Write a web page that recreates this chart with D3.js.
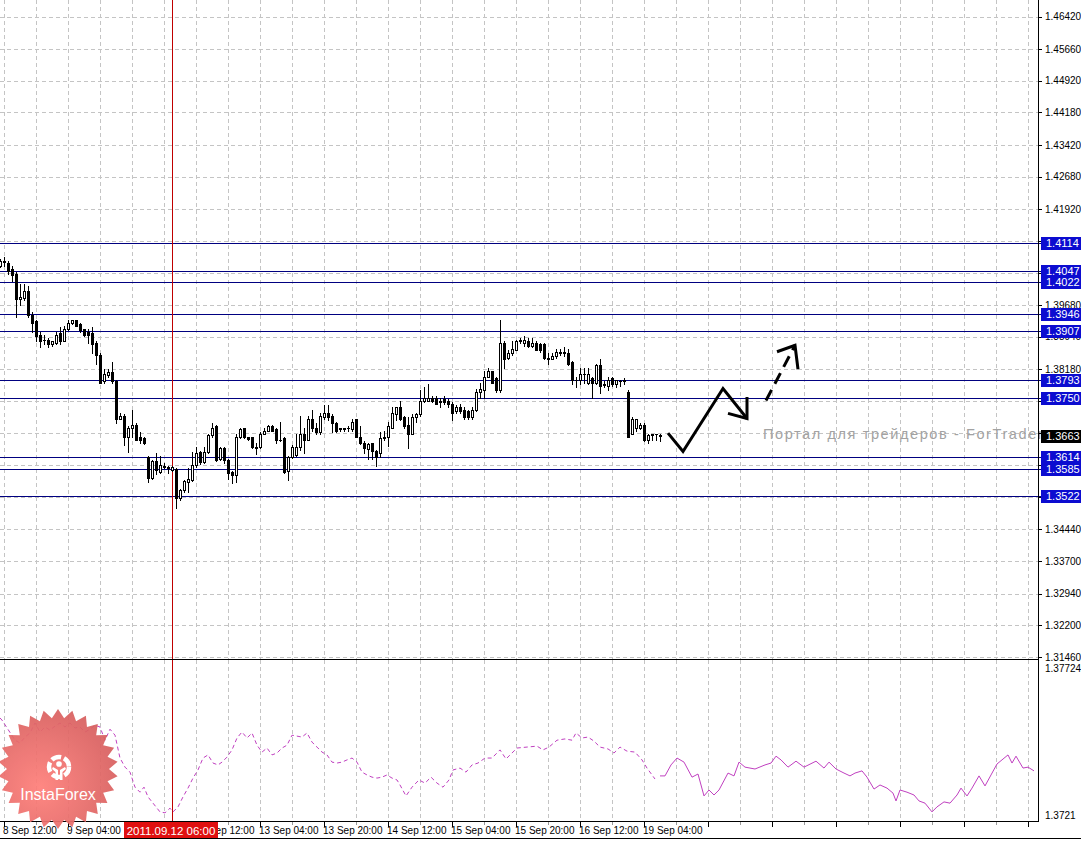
<!DOCTYPE html>
<html><head><meta charset="utf-8">
<script src="https://cdn.jsdelivr.net/npm/d3@7/dist/d3.min.js"></script>
<style>body{margin:0;background:#fff;}svg{display:block;}</style>
</head><body>
<script>
// ---------- DATA ----------
const timeLabels = ["8 Sep 12:00","9 Sep 04:00","9 Sep 20:00","12 Sep 12:00","13 Sep 04:00","13 Sep 20:00","14 Sep 12:00","15 Sep 04:00","15 Sep 20:00","16 Sep 12:00","19 Sep 04:00"];
const timeLabelBars = [1,17,33,49,65,81,97,113,129,145,161];
const priceTicks = [1.46420,1.45660,1.44920,1.44180,1.43420,1.42680,1.41920,1.41180,1.40440,1.39680,1.38940,1.38180,1.37440,1.36690,1.35950,1.35200,1.34440,1.33700,1.32940,1.32200,1.31460];
const levels = [1.4114,1.4047,1.4022,1.3946,1.3907,1.3793,1.3750,1.3614,1.3585,1.3522];
const bidPrice = 1.3663;
const cursorBar = 43;
const cursorLabel = "2011.09.12 06:00";
const opens = [1.4060,1.4070,1.4067,1.4053,1.4041,1.3983,1.3985,1.4002,1.3944,1.3930,
1.3897,1.3887,1.3887,1.3876,1.3880,1.3902,1.3885,1.3913,1.3925,1.3932,
1.3923,1.3911,1.3904,1.3902,1.3880,1.3852,1.3790,1.3804,1.3811,1.3790,
1.3703,1.3710,1.3661,1.3682,1.3689,1.3659,1.3657,1.3612,1.3563,1.3603,
1.3577,1.3591,1.3589,1.3582,1.3584,1.3517,1.3535,1.3554,1.3559,1.3594,
1.3624,1.3601,1.3624,1.3664,1.3685,1.3608,1.3633,1.3605,1.3577,1.3570,
1.3659,1.3680,1.3659,1.3659,1.3636,1.3636,1.3668,1.3675,1.3685,1.3678,
1.3654,1.3657,1.3580,1.3612,1.3617,1.3636,1.3666,1.3654,1.3703,1.3680,
1.3671,1.3706,1.3717,1.3708,1.3692,1.3679,1.3680,1.3680,1.3678,1.3701,
1.3661,1.3647,1.3631,1.3645,1.3626,1.3622,1.3657,1.3659,1.3682,1.3713,
1.3729,1.3706,1.3687,1.3668,1.3706,1.3713,1.3743,1.3745,1.3752,1.3752,
1.3743,1.3748,1.3745,1.3738,1.3720,1.3731,1.3722,1.3720,1.3706,1.3722,
1.3764,1.3769,1.3801,1.3813,1.3797,1.3769,1.3880,1.3845,1.3855,1.3864,
1.3883,1.3880,1.3883,1.3873,1.3880,1.3878,1.3876,1.3841,1.3843,1.3848,
1.3857,1.3859,1.3857,1.3836,1.3794,1.3792,1.3808,1.3785,1.3797,1.3787,
1.3829,1.3783,1.3778,1.3797,1.3783,1.3790,1.3792,1.3766,1.3668,1.3680,
1.3680,1.3689,1.3652,1.3666,1.3666,1.3664];
const highs = [1.4076,1.4081,1.4070,1.4060,1.4046,1.4018,1.4018,1.4013,1.3951,1.3932,
1.3904,1.3897,1.3890,1.3885,1.3904,1.3916,1.3920,1.3932,1.3934,1.3934,
1.3925,1.3913,1.3913,1.3916,1.3883,1.3855,1.3818,1.3818,1.3836,1.3792,
1.3717,1.3713,1.3685,1.3722,1.3692,1.3671,1.3659,1.3615,1.3605,1.3622,
1.3615,1.3598,1.3591,1.3591,1.3587,1.3538,1.3559,1.3587,1.3624,1.3636,
1.3626,1.3636,1.3666,1.3692,1.3687,1.3636,1.3636,1.3608,1.3580,1.3668,
1.3682,1.3682,1.3661,1.3661,1.3647,1.3671,1.3680,1.3689,1.3687,1.3680,
1.3694,1.3659,1.3615,1.3640,1.3668,1.3710,1.3682,1.3710,1.3724,1.3692,
1.3715,1.3734,1.3734,1.3713,1.3694,1.3682,1.3682,1.3685,1.3703,1.3703,
1.3685,1.3650,1.3647,1.3647,1.3629,1.3671,1.3673,1.3694,1.3729,1.3731,
1.3745,1.3708,1.3706,1.3713,1.3717,1.3769,1.3776,1.3783,1.3755,1.3755,
1.3752,1.3755,1.3748,1.3741,1.3734,1.3736,1.3729,1.3722,1.3729,1.3773,
1.3785,1.3815,1.3822,1.3815,1.3799,1.3934,1.3883,1.3864,1.3883,1.3887,
1.3892,1.3895,1.3892,1.3892,1.3883,1.3880,1.3880,1.3855,1.3857,1.3866,
1.3866,1.3871,1.3866,1.3838,1.3801,1.3820,1.3822,1.3822,1.3799,1.3831,
1.3843,1.3790,1.3799,1.3799,1.3794,1.3794,1.3797,1.3769,1.3706,1.3703,
1.3692,1.3692,1.3666,1.3668,1.3668,1.3668];
const lows = [1.4058,1.4060,1.4041,1.4025,1.3939,1.3967,1.3981,1.3939,1.3904,1.3885,
1.3871,1.3876,1.3869,1.3873,1.3878,1.3878,1.3883,1.3909,1.3923,1.3918,
1.3904,1.3895,1.3880,1.3857,1.3831,1.3785,1.3787,1.3799,1.3787,1.3692,
1.3701,1.3640,1.3624,1.3659,1.3652,1.3645,1.3643,1.3554,1.3561,1.3573,
1.3575,1.3587,1.3575,1.3580,1.3493,1.3512,1.3531,1.3531,1.3556,1.3589,
1.3596,1.3598,1.3622,1.3659,1.3603,1.3605,1.3598,1.3561,1.3552,1.3554,
1.3657,1.3657,1.3652,1.3633,1.3619,1.3633,1.3666,1.3673,1.3673,1.3645,
1.3650,1.3575,1.3559,1.3610,1.3615,1.3629,1.3622,1.3652,1.3675,1.3668,
1.3668,1.3703,1.3699,1.3671,1.3671,1.3673,1.3675,1.3675,1.3675,1.3659,
1.3643,1.3622,1.3608,1.3608,1.3591,1.3612,1.3652,1.3638,1.3680,1.3699,
1.3699,1.3682,1.3633,1.3666,1.3696,1.3708,1.3742,1.3744,1.3741,1.3736,
1.3731,1.3738,1.3729,1.3699,1.3717,1.3717,1.3703,1.3701,1.3703,1.3720,
1.3752,1.3752,1.3799,1.3785,1.3766,1.3766,1.3822,1.3841,1.3852,1.3862,
1.3880,1.3873,1.3871,1.3869,1.3862,1.3859,1.3841,1.3831,1.3841,1.3845,
1.3852,1.3850,1.3829,1.3783,1.3776,1.3783,1.3785,1.3783,1.3750,1.3783,
1.3762,1.3776,1.3769,1.3778,1.3776,1.3780,1.3783,1.3659,1.3666,1.3675,
1.3678,1.3650,1.3645,1.3652,1.3654,1.3650];
const closes = [1.4070,1.4069,1.4048,1.4039,1.3983,1.3988,1.4002,1.3944,1.3927,1.3895,
1.3885,1.3886,1.3878,1.3883,1.3899,1.3883,1.3913,1.3927,1.3932,1.3920,
1.3909,1.3899,1.3899,1.3878,1.3852,1.3787,1.3806,1.3811,1.3790,1.3703,
1.3710,1.3661,1.3682,1.3687,1.3654,1.3652,1.3647,1.3563,1.3603,1.3582,
1.3594,1.3590,1.3588,1.3589,1.3517,1.3535,1.3556,1.3561,1.3594,1.3622,
1.3601,1.3624,1.3664,1.3682,1.3605,1.3633,1.3605,1.3575,1.3570,1.3659,
1.3678,1.3659,1.3655,1.3636,1.3635,1.3668,1.3675,1.3685,1.3675,1.3654,
1.3653,1.3577,1.3612,1.3636,1.3636,1.3666,1.3654,1.3703,1.3680,1.3671,
1.3708,1.3717,1.3706,1.3692,1.3675,1.3680,1.3679,1.3681,1.3694,1.3661,
1.3645,1.3633,1.3643,1.3626,1.3612,1.3657,1.3659,1.3685,1.3715,1.3729,
1.3703,1.3685,1.3668,1.3706,1.3713,1.3745,1.3750,1.3752,1.3743,1.3738,
1.3742,1.3741,1.3736,1.3717,1.3729,1.3720,1.3706,1.3706,1.3722,1.3766,
1.3771,1.3801,1.3813,1.3787,1.3769,1.3880,1.3843,1.3855,1.3866,1.3883,
1.3887,1.3887,1.3873,1.3880,1.3864,1.3862,1.3845,1.3845,1.3850,1.3859,
1.3858,1.3855,1.3831,1.3792,1.3793,1.3808,1.3807,1.3808,1.3787,1.3829,
1.3780,1.3782,1.3794,1.3783,1.3792,1.3791,1.3791,1.3661,1.3703,1.3701,
1.3689,1.3652,1.3664,1.3665,1.3667,1.3663];
const indicatorMin = 1.3721, indicatorMax = 1.37724;
const indicatorDashed = [[0,1.37539],[0.5,1.37532],[3.75,1.37468],[5,1.37459],[6.25,1.37478],[7.5,1.37491],[8.75,1.37523],[10,1.37494],[11.25,1.37510],[12.5,1.37500],[13.75,1.37513],[15,1.37523],[16.25,1.37510],[17.5,1.37523],[18.75,1.37507],[20,1.37510],[21.25,1.37494],[22.5,1.37503],[23.75,1.37516],[25,1.37510],[26.25,1.37468],[27.5,1.37503],[28.75,1.37484],[30,1.37411],[31.25,1.37382],[32.5,1.37366],[33.75,1.37318],[35,1.37302],[36,1.37318],[37,1.37287],[38.25,1.37267],[40,1.37239],[41.25,1.37236],[42.5,1.37251],[43.25,1.37239],[44.5,1.37255],[45.75,1.37287],[47,1.37315],[48.25,1.37347],[49.5,1.37373],[50.75,1.37411],[52,1.37421],[53.25,1.37395],[54.5,1.37389],[55.5,1.37398],[56.75,1.37414],[58,1.37437],[59.25,1.37475],[60.5,1.37494],[61.75,1.37475],[63,1.37491],[64.25,1.37452],[65.5,1.37430],[66.75,1.37443],[68,1.37421],[69.25,1.37427],[70.5,1.37443],[71.75,1.37452],[73,1.37484],[74.25,1.37481],[75.5,1.37478],[76.75,1.37491],[78,1.37462],[79.25,1.37446],[80.5,1.37430],[81.75,1.37421],[83,1.37398],[84.25,1.37395],[85.5,1.37398],[86.75,1.37405],[88,1.37411],[89.25,1.37398],[90.5,1.37366],[91.75,1.37357],[93,1.37350],[94.25,1.37347],[95.5,1.37350],[96.75,1.37357],[98,1.37347],[99.25,1.37341],[100,1.37325],[101.5,1.37290],[103,1.37318],[104.75,1.37341],[106.25,1.37331],[107.75,1.37350],[109.25,1.37331],[110.75,1.37318],[112.25,1.37341],[113.25,1.37373],[115,1.37379],[116.5,1.37366],[118,1.37389],[119.5,1.37395],[121.25,1.37411],[123,1.37411],[125,1.37437],[126.5,1.37408],[129.25,1.37443],[131.75,1.37446],[134.25,1.37449],[135.75,1.37437],[137.25,1.37446],[139.25,1.37468],[141.25,1.37472],[143,1.37468],[144,1.37491],[145.5,1.37475],[147,1.37478],[148.5,1.37465],[150,1.37446],[152,1.37440],[153.5,1.37427],[155,1.37446],[156.75,1.37433],[158.75,1.37430],[160.5,1.37405],[161.75,1.37379],[163.75,1.37344]];
const indicatorSolid = [[165,1.37354],[166.25,1.37354],[167.75,1.37389],[169.25,1.37411],[171,1.37398],[173,1.37350],[174.5,1.37360],[176,1.37290],[177.25,1.37309],[178.5,1.37293],[179.75,1.37309],[182,1.37363],[183.5,1.37354],[184.75,1.37398],[186.25,1.37382],[188.75,1.37376],[191.25,1.37389],[192.75,1.37395],[194,1.37417],[195.25,1.37405],[197,1.37382],[199,1.37401],[201,1.37382],[204,1.37401],[206,1.37379],[207.25,1.37398],[209,1.37376],[211,1.37363],[212.5,1.37354],[213.75,1.37363],[215.5,1.37370],[216.75,1.37350],[218.5,1.37312],[220,1.37325],[221.75,1.37315],[223.25,1.37299],[224,1.37274],[225,1.37309],[226.75,1.37302],[228.5,1.37293],[229.75,1.37274],[231.25,1.37267],[233,1.37239],[234.25,1.37255],[236,1.37271],[237.5,1.37267],[239.25,1.37293],[240.25,1.37315],[241.75,1.37290],[243,1.37315],[244.75,1.37354],[246.25,1.37322],[247.75,1.37357],[249.25,1.37392],[252,1.37421],[253,1.37395],[254,1.37417],[255.75,1.37379],[257,1.37382],[258.5,1.37370]];
const forecastSolid = [[167,1.3669],[170.75,1.3626],[180.75,1.3773],[186.75,1.3703]];
const forecastSolidHead = [[182,1.3715],[186.75,1.3703],[186.75,1.3753]];
const forecastDashed = [[191.5,1.3745],[198.75,1.3874]];
const forecastDashedHead = [[194.25,1.3859],[198.75,1.3874],[199.5,1.3818]];
const watermarkText = "Портал для трейдеров - ForTrader";
const logoText = "InstaForex";

// ---------- LAYOUT ----------
const W = 1081, H = 842;
const plotRight = 1038;
const mainTop = 0, mainBottom = 659;
const indTop = 660, indBottom = 821;
const FONT = "Tahoma, 'Liberation Sans', Arial, sans-serif";

const x = d3.scaleLinear().domain([0, 259.5]).range([0, plotRight]);
const y = d3.scaleLinear().domain([1.3146, 1.4642]).range([657, 16.5]);
const yi = d3.scaleLinear().domain([indicatorMin, indicatorMax]).range([indBottom, indTop]);

const svg = d3.select("body").append("svg").attr("width", W).attr("height", H)
  .style("font-family", FONT);
svg.append("rect").attr("width", W).attr("height", H).attr("fill", "#fff");

const defs = svg.append("defs");
defs.append("clipPath").attr("id","mainClip").append("rect")
  .attr("x",0).attr("y",mainTop).attr("width",plotRight).attr("height",mainBottom-mainTop);
defs.append("clipPath").attr("id","indClip").append("rect")
  .attr("x",0).attr("y",indTop).attr("width",plotRight).attr("height",indBottom-indTop);
defs.append("clipPath").attr("id","wmClip").append("rect")
  .attr("x",0).attr("y",mainTop).attr("width",plotRight + 3).attr("height",mainBottom-mainTop);

// ---------- GRID ----------
const gridColor = "#c4c4c4";
const gridG = svg.append("g").attr("shape-rendering","crispEdges");
const vGrid = d3.range(0, 33).map(k => 1 + 8*k); // bar indices of vertical grid
gridG.selectAll("line.vg").data(vGrid).join("line")
  .attr("x1", d => Math.round(x(d)) + 0.5).attr("x2", d => Math.round(x(d)) + 0.5)
  .attr("y1", mainTop).attr("y2", mainBottom)
  .attr("stroke", gridColor).attr("stroke-dasharray","4,3");
gridG.selectAll("line.vgi").data(vGrid).join("line")
  .attr("x1", d => Math.round(x(d)) + 0.5).attr("x2", d => Math.round(x(d)) + 0.5)
  .attr("y1", indTop).attr("y2", indBottom)
  .attr("stroke", gridColor).attr("stroke-dasharray","4,3");
gridG.selectAll("line.hg").data(priceTicks).join("line")
  .attr("x1", 0).attr("x2", plotRight)
  .attr("y1", d => Math.round(y(d)) + 0.5).attr("y2", d => Math.round(y(d)) + 0.5)
  .attr("stroke", gridColor).attr("stroke-dasharray","4,3");

// ---------- LEVEL LINES ----------
const levelColor = "#000080";
svg.append("g").attr("shape-rendering","crispEdges").selectAll("line").data(levels).join("line")
  .attr("x1", 0).attr("x2", plotRight + 3)
  .attr("y1", d => Math.round(y(d)) + 0.5).attr("y2", d => Math.round(y(d)) + 0.5)
  .attr("stroke", levelColor).attr("stroke-width", 1);

// ---------- CURSOR LINE ----------
svg.append("line").attr("shape-rendering","crispEdges")
  .attr("x1", x(cursorBar) + 0.5).attr("x2", x(cursorBar) + 0.5)
  .attr("y1", mainTop).attr("y2", indBottom)
  .attr("stroke", "#c00000");

// ---------- CANDLES ----------
const bars = opens.map((o, i) => ({i, o, h: highs[i], l: lows[i], c: closes[i]}));
const cg = svg.append("g").attr("clip-path","url(#mainClip)").attr("shape-rendering","crispEdges");
cg.selectAll("line.wick").data(bars).join("line")
  .attr("x1", d => Math.round(x(d.i)) + 0.5).attr("x2", d => Math.round(x(d.i)) + 0.5)
  .attr("y1", d => Math.round(y(d.h))).attr("y2", d => Math.round(y(d.l)) + 1)
  .attr("stroke", "#000");
cg.selectAll("rect.body").data(bars).join("rect")
  .each(function(d) {
    const cx = Math.round(x(d.i));
    const yt = Math.round(y(Math.max(d.o, d.c)));
    const yb = Math.round(y(Math.min(d.o, d.c)));
    const sel = d3.select(this);
    if (yb - yt < 1) {
      sel.attr("x", cx - 1).attr("y", yt).attr("width", 3).attr("height", 1).attr("fill", "#000");
    } else if (d.c > d.o) {
      sel.attr("x", cx - 0.5).attr("y", yt + 0.5).attr("width", 2).attr("height", yb - yt)
        .attr("fill", "#fff").attr("stroke", "#000");
    } else {
      sel.attr("x", cx - 1).attr("y", yt).attr("width", 3).attr("height", yb - yt + 1).attr("fill", "#000");
    }
  });

// ---------- FORECAST ANNOTATIONS ----------
const pl = d3.line().x(d => x(d[0])).y(d => y(d[1]));
const ag = svg.append("g").attr("fill","none").attr("stroke","#000").attr("stroke-width",3)
  .attr("stroke-linejoin","miter").attr("stroke-linecap","butt");
ag.append("path").attr("d", pl(forecastSolid));
ag.append("path").attr("d", pl(forecastSolidHead));
ag.append("path").attr("d", pl(forecastDashed)).attr("stroke-dasharray","12,7");
ag.append("path").attr("d", pl(forecastDashedHead));

// ---------- WATERMARK TEXT ----------
svg.append("text").attr("x", 763).attr("y", 439)
  .attr("font-family", "'Liberation Sans', Arial, sans-serif")
  .attr("font-size", 14.5).attr("letter-spacing", 1.6).attr("fill", "#a2a2a2")
  .attr("clip-path","url(#wmClip)")
  .text(watermarkText);

// ---------- INDICATOR ----------
const il = d3.line().x(d => x(d[0])).y(d => yi(d[1]));
const ig = svg.append("g").attr("clip-path","url(#indClip)").attr("fill","none");
ig.append("path").attr("d", il(indicatorDashed)).attr("stroke","#c040c0").attr("stroke-dasharray","4,3");
ig.append("path").attr("d", il(indicatorSolid)).attr("stroke","#c040c0");

// ---------- FRAME ----------
const fg = svg.append("g").attr("stroke","#000").attr("shape-rendering","crispEdges");
fg.append("line").attr("x1", plotRight + 0.5).attr("x2", plotRight + 0.5).attr("y1", 0).attr("y2", indBottom + 1);
fg.append("line").attr("x1", 0).attr("x2", plotRight + 1).attr("y1", mainBottom + 0.5).attr("y2", mainBottom + 0.5);
fg.append("line").attr("x1", 0).attr("x2", plotRight + 1).attr("y1", indBottom + 0.5).attr("y2", indBottom + 0.5);
fg.append("line").attr("x1", 0).attr("x2", W).attr("y1", 838.5).attr("y2", 838.5);

// ---------- PRICE AXIS ----------
// tick labels that sit fully under a level/bid label box are not drawn (as in the terminal)
const boxCenters = levels.concat([bidPrice]).map(v => Math.round(y(v)));
const visibleTicks = priceTicks.filter(t => boxCenters.every(c => Math.abs(y(t) - c) > 5));
const axG = svg.append("g");
axG.selectAll("line.tk").data(priceTicks).join("line").attr("shape-rendering","crispEdges")
  .attr("x1", plotRight + 1).attr("x2", plotRight + 4)
  .attr("y1", d => Math.round(y(d)) + 0.5).attr("y2", d => Math.round(y(d)) + 0.5)
  .attr("stroke", "#000");
axG.selectAll("text.tk").data(visibleTicks).join("text")
  .attr("x", 1045).attr("y", d => y(d)).attr("dy", "0.36em")
  .attr("font-size", 10).attr("fill", "#000")
  .text(d => d3.format(".5f")(d));

// level labels
const lg = svg.append("g");
levels.forEach(v => {
  const yy = Math.round(y(v));
  lg.append("rect").attr("x", 1041).attr("y", yy - 6).attr("width", 40).attr("height", 13).attr("fill", "#0c0cd0");
  lg.append("text").attr("x", 1046).attr("y", yy).attr("dy", "0.37em").attr("font-size", 11)
    .attr("fill", "#fff").text(d3.format(".4f")(v));
});
// bid label
{
  const yy = Math.round(y(bidPrice));
  lg.append("rect").attr("x", 1041).attr("y", yy - 6).attr("width", 40).attr("height", 13).attr("fill", "#000");
  lg.append("text").attr("x", 1046).attr("y", yy).attr("dy", "0.37em").attr("font-size", 11)
    .attr("fill", "#fff").text(d3.format(".4f")(bidPrice));
}

// indicator axis labels
svg.append("text").attr("x", 1045).attr("y", indTop + 8).attr("dy","0.36em").attr("font-size", 10).text(d3.format(".5f")(indicatorMax));
svg.append("text").attr("x", 1045).attr("y", indBottom - 6).attr("dy","0.36em").attr("font-size", 10).text(d3.format(".4f")(indicatorMin));

// ---------- TIME AXIS ----------
const cursorBox = {x0: x(cursorBar) - 48, x1: x(cursorBar) + 46};
const tg = svg.append("g");
tg.selectAll("line.tt").data(vGrid).join("line").attr("shape-rendering","crispEdges")
  .attr("x1", d => Math.round(x(d)) + 0.5).attr("x2", d => Math.round(x(d)) + 0.5)
  .attr("y1", indBottom + 1).attr("y2", d => ((d - 1) % 16 === 0) ? indBottom + 6 : indBottom + 4)
  .attr("stroke", d => ((d - 1) % 16 === 0) ? "#000" : "#999");
// labels hidden completely by the cursor time box are skipped
const timeItems = timeLabels.map((t, k) => ({t, bar: timeLabelBars[k]}))
  .filter(d => !(x(d.bar) >= cursorBox.x0 && x(d.bar) + 52 <= cursorBox.x1));
tg.selectAll("text").data(timeItems).join("text")
  .attr("x", d => x(d.bar) - 1).attr("y", 834)
  .attr("font-size", 10).attr("fill", "#000").text(d => d.t);
// cursor time label
tg.append("rect").attr("x", cursorBox.x0).attr("y", 822).attr("width", cursorBox.x1 - cursorBox.x0).attr("height", 16).attr("fill", "#e01010");
tg.append("text").attr("x", x(cursorBar) - 1).attr("y", 834.5).attr("text-anchor","middle")
  .attr("font-size", 11.5).attr("fill", "#fff").text(cursorLabel);

// ---------- LOGO ----------
const lgG = svg.append("g").attr("transform", "translate(58,769)").attr("opacity", 0.93);
const grad = defs.append("radialGradient").attr("id","logoGrad").attr("cx","35%").attr("cy","65%").attr("r","75%");
grad.append("stop").attr("offset","0%").attr("stop-color","#ff7f7a");
grad.append("stop").attr("offset","100%").attr("stop-color","#d45d5d");
const nSpikes = 26, rOut = 60, rIn = 51;
const starPts = d3.range(nSpikes * 2).map(k => {
  const a = Math.PI * k / nSpikes - Math.PI / 2;
  const r = k % 2 === 0 ? rOut : rIn;
  return [r * Math.cos(a), r * Math.sin(a)];
});
lgG.append("path").attr("d", d3.line()(starPts) + "Z").attr("fill", "url(#logoGrad)");
// gear icon
const gear = lgG.append("g").attr("transform","translate(1,-2)");
gear.append("circle").attr("r", 10).attr("fill","none").attr("stroke","#fff").attr("stroke-width",4.5)
  .attr("stroke-dasharray","10,3");
gear.append("circle").attr("cx",0).attr("cy",-3).attr("r",2.8).attr("fill","#fff");
gear.append("path").attr("d","M-6,0 L-1,3 L-1,13 L-3.5,13 L-3.5,5 L-7,2 Z M6,0 L1,3 L1,13 L3.5,13 L3.5,5 L7,2 Z").attr("fill","#fff");
lgG.append("text").attr("x", 0).attr("y", 31).attr("text-anchor","middle")
  .attr("font-family","'Liberation Sans', Arial, sans-serif").attr("font-size", 16).attr("fill","#fff").text(logoText);
</script>
</body></html>
